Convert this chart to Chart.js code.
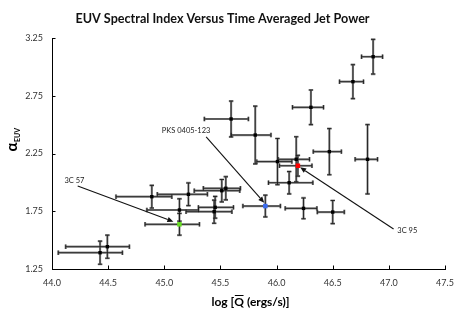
<!DOCTYPE html>
<html><head><meta charset="utf-8">
<script src="https://cdn.jsdelivr.net/npm/chart.js@4"></script>
<style>html,body{margin:0;padding:0;background:#fff}#wrap{width:463px;height:317px}</style>
</head><body><div id="wrap"><canvas id="c" width="463" height="317"></canvas></div>
<script>
// ---- tick labels ----
const xTicks = [44.0, 44.5, 45.0, 45.5, 46.0, 46.5, 47.0, 47.5];
const yTicks = [1.25, 1.75, 2.25, 2.75, 3.25];

// ---- main sample (black points) ----
const logQ        = [46.86, 46.68, 46.306, 46.47, 46.81, 46.24, 46.50, 45.595, 45.81, 46.008, 46.175, 46.112, 44.889, 45.215, 45.512, 45.548, 45.135, 45.453, 45.444, 44.493, 44.428];
const alphaEUV    = [3.088, 2.872, 2.65, 2.266, 2.20, 1.775, 1.743, 2.549, 2.41, 2.18, 2.20, 1.997, 1.876, 1.897, 1.928, 1.949, 1.761, 1.784, 1.746, 1.443, 1.391];
const logQErrLow  = [0.103, 0.119, 0.164, 0.143, 0.11, 0.163, 0.137, 0.238, 0.214, 0.184, 0.16, 0.184, 0.319, 0.277, 0.245, 0.2, 0.29, 0.149, 0.25, 0.371, 0.372];
const logQErrHigh = [0.084, 0.094, 0.112, 0.107, 0.089, 0.119, 0.103, 0.154, 0.14, 0.128, 0.118, 0.211, 0.178, 0.169, 0.16, 0.13, 0.17, 0.163, 0.158, 0.196, 0.199];
const alphaErr    = [0.15, 0.147, 0.15, 0.2, 0.30, 0.09, 0.1, 0.155, 0.25, 0.2, 0.195, 0.097, 0.098, 0.098, 0.097, 0.1, 0.097, 0.094, 0.1, 0.1, 0.1];

// ---- highlighted sources ----
const hlNames       = ['3C 95', '3C 57', 'PKS 0405-123'];
const hlLogQ        = [46.19, 45.135, 45.90];
const hlAlpha       = [2.144, 1.637, 1.795];
const hlLogQErrLow  = [0.164, 0.306, 0.2];
const hlLogQErrHigh = [0.125, 0.178, 0.134];
const hlAlphaErr    = [0.09, 0.094, 0.094];
const hlColors      = ['#ff0000', '#66dd22', '#3b6cf0'];

// ---- annotation labels & arrows (data units) ----
const labelLogQ       = [47.164, 44.2, 45.194];
const labelAlpha      = [1.579, 2.014, 2.447];
const arrowStartLogQ  = [47.042, 44.229, 45.373];
const arrowStartAlpha = [1.596, 1.969, 2.395];
const arrowTipLogQ    = [46.21, 45.081, 45.89];
const arrowTipAlpha   = [2.13, 1.66, 1.824];

const mainData = logQ.map((v, i) => ({x: v, y: alphaEUV[i], xLo: logQErrLow[i], xHi: logQErrHigh[i], yErr: alphaErr[i]}));
const hlData = hlLogQ.map((v, i) => ({x: v, y: hlAlpha[i], xLo: hlLogQErrLow[i], xHi: hlLogQErrHigh[i], yErr: hlAlphaErr[i]}));

const FONT = 'Lato, "Open Sans", sans-serif';

const errorBars = {
  id: 'errorBars',
  beforeDatasetsDraw(chart) {
    const {ctx, scales: {x, y}} = chart;
    const segs = [];
    chart.data.datasets.forEach(ds => {
      ds.data.forEach(p => {
        const cx = x.getPixelForValue(p.x), cy = y.getPixelForValue(p.y);
        const l = x.getPixelForValue(p.x - p.xLo), r = x.getPixelForValue(p.x + p.xHi);
        const t = y.getPixelForValue(p.y + p.yErr), b = y.getPixelForValue(p.y - p.yErr);
        const c = 2.2;
        segs.push([l, cy, r, cy], [l, cy - c, l, cy + c], [r, cy - c, r, cy + c],
                  [cx, t, cx, b], [cx - c, t, cx + c, t], [cx - c, b, cx + c, b]);
      });
    });
    ctx.save();
    ctx.lineCap = 'butt';
    [['#8f8f8f', 2.2], ['#151515', 0.85]].forEach(([col, w]) => {
      ctx.strokeStyle = col; ctx.lineWidth = w;
      ctx.beginPath();
      segs.forEach(s => { ctx.moveTo(s[0], s[1]); ctx.lineTo(s[2], s[3]); });
      ctx.stroke();
    });
    ctx.restore();
  }
};

const decorations = {
  id: 'decorations',
  afterDraw(chart) {
    const {ctx, chartArea: a, scales: {x, y}} = chart;
    ctx.save();
    // inner tick marks
    ctx.strokeStyle = '#000'; ctx.lineWidth = 1;
    ctx.beginPath();
    xTicks.forEach(v => { const px = Math.round(x.getPixelForValue(v)) + 0.5; ctx.moveTo(px, a.bottom); ctx.lineTo(px, a.bottom - 3.5); });
    yTicks.forEach(v => { const py = Math.round(y.getPixelForValue(v)) + 0.5; ctx.moveTo(a.left, py); ctx.lineTo(a.left + 3.5, py); });
    ctx.stroke();

    // y-axis title: alpha with subscript EUV
    ctx.save();
    ctx.translate(16.7, 151.5);
    ctx.rotate(-Math.PI / 2);
    ctx.fillStyle = '#000';
    ctx.textAlign = 'left'; ctx.textBaseline = 'alphabetic';
    ctx.font = 'bold 15px ' + FONT;
    ctx.fillText('α', 0, 0);
    const aw = ctx.measureText('α').width;
    ctx.font = 'bold 7px ' + FONT;
    ctx.fillText('EUV', aw + 0.5, 3.6);
    ctx.restore();

    // x-axis title: log [Q̄ (ergs/s)]
    ctx.font = 'bold 12px ' + FONT;
    ctx.fillStyle = '#000';
    ctx.textAlign = 'left'; ctx.textBaseline = 'alphabetic';
    const p1 = 'log [', p2 = 'Q', p3 = ' (ergs/s)]';
    const w1 = ctx.measureText(p1).width, w2 = ctx.measureText(p2).width, w3 = ctx.measureText(p3).width;
    const cxT = (a.left + a.right) / 2 + 2;
    let sx = cxT - (w1 + w2 + w3) / 2;
    const base = 306;
    ctx.fillText(p1, sx, base);
    ctx.fillText(p2, sx + w1, base);
    ctx.fillText(p3, sx + w1 + w2, base);
    ctx.strokeStyle = '#000'; ctx.lineWidth = 1;
    ctx.beginPath();
    ctx.moveTo(sx + w1 + 0.5, base - 10.5); ctx.lineTo(sx + w1 + w2 - 0.5, base - 10.5);
    ctx.stroke();

    // annotations
    ctx.font = '7.5px ' + FONT;
    ctx.fillStyle = '#222';
    ctx.textAlign = 'center'; ctx.textBaseline = 'middle';
    hlNames.forEach((n, i) => {
      ctx.fillText(n, x.getPixelForValue(labelLogQ[i]), y.getPixelForValue(labelAlpha[i]));
      const x0 = x.getPixelForValue(arrowStartLogQ[i]), y0 = y.getPixelForValue(arrowStartAlpha[i]);
      const x1 = x.getPixelForValue(arrowTipLogQ[i]), y1 = y.getPixelForValue(arrowTipAlpha[i]);
      const ang = Math.atan2(y1 - y0, x1 - x0);
      const hl = 6, hw = 2.6;
      const bx = x1 - hl * Math.cos(ang), by = y1 - hl * Math.sin(ang);
      ctx.strokeStyle = '#111'; ctx.lineWidth = 1.1;
      ctx.beginPath(); ctx.moveTo(x0, y0); ctx.lineTo(bx, by); ctx.stroke();
      ctx.fillStyle = '#111';
      ctx.beginPath();
      ctx.moveTo(x1, y1);
      ctx.lineTo(bx + hw * Math.sin(ang), by - hw * Math.cos(ang));
      ctx.lineTo(bx - hw * Math.sin(ang), by + hw * Math.cos(ang));
      ctx.closePath(); ctx.fill();
      ctx.fillStyle = '#222';
    });
    ctx.restore();
  }
};

new Chart(document.getElementById('c'), {
  type: 'scatter',
  data: {
    datasets: [
      {label: 'Sample', data: mainData, pointStyle: 'rect', pointRadius: 2.4, pointBackgroundColor: '#000', pointBorderWidth: 0, pointHoverRadius: 2.4},
      {label: 'Highlighted', data: hlData, pointStyle: 'rect', pointRadius: 3.2, pointBackgroundColor: hlColors, pointBorderWidth: 0, pointHoverRadius: 3.2}
    ]
  },
  options: {
    responsive: false,
    animation: false,
    events: [],
    layout: {padding: {left: 0, right: 18, top: 0, bottom: 0}},
    plugins: {
      legend: {display: false},
      tooltip: {enabled: false},
      title: {
        display: true,
        text: 'EUV Spectral Index Versus Time Averaged Jet Power',
        color: '#111',
        font: {family: FONT, size: 12.6, weight: 'bold'},
        padding: {top: 11.3, bottom: 11.6}
      }
    },
    scales: {
      x: {
        type: 'linear', min: 44, max: 47.5,
        afterBuildTicks: s => { s.ticks = xTicks.map(v => ({value: v})); },
        afterFit: s => { s.height = 48; },
        grid: {display: false, drawTicks: false},
        border: {display: true, color: '#000', width: 1},
        ticks: {callback: v => Number(v).toFixed(1), color: '#333', font: {family: FONT, size: 9}, padding: 9, maxRotation: 0, autoSkip: false}
      },
      y: {
        type: 'linear', min: 1.25, max: 3.25,
        afterBuildTicks: s => { s.ticks = yTicks.map(v => ({value: v})); },
        afterFit: s => { s.width = 52; },
        grid: {display: false, drawTicks: false},
        border: {display: true, color: '#000', width: 1},
        ticks: {callback: v => Number(v).toFixed(2), color: '#333', font: {family: FONT, size: 9}, padding: 9, autoSkip: false}
      }
    }
  },
  plugins: [errorBars, decorations]
});
</script>
</body></html>
